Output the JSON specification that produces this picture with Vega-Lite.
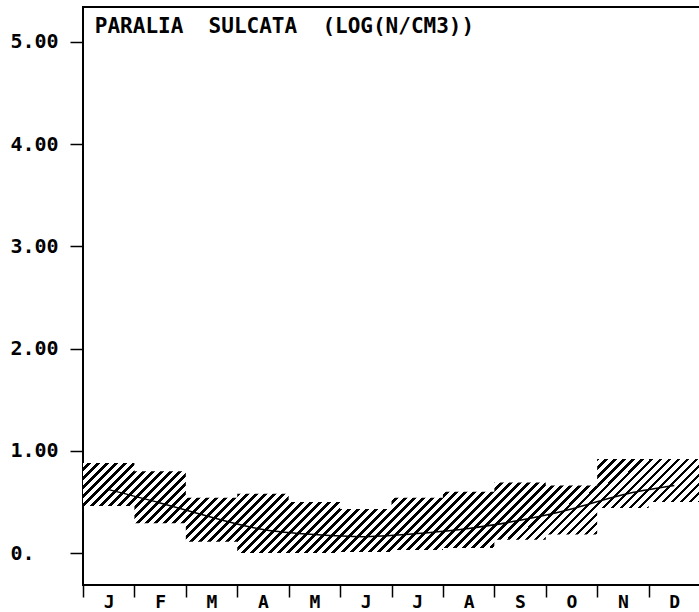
{
  "$schema": "https://vega.github.io/schema/vega-lite/v6.json",
  "width": 617,
  "height": 578,
  "autosize": "none",
  "padding": {"left": 83, "top": 7, "right": 0, "bottom": 27},
  "background": "white",
  "config": {"view": {"stroke": "black", "strokeWidth": 2}, "font": "DejaVu Sans Mono"},
  "datasets": {
    "bands": [
      {"start": 0, "lo": 0.46, "hi": 0.88},
      {"start": 1, "lo": 0.29, "hi": 0.80},
      {"start": 2, "lo": 0.11, "hi": 0.54},
      {"start": 3, "lo": 0.0, "hi": 0.58},
      {"start": 4, "lo": 0.0, "hi": 0.50},
      {"start": 5, "lo": 0.01, "hi": 0.43},
      {"start": 6, "lo": 0.03, "hi": 0.54},
      {"start": 7, "lo": 0.05, "hi": 0.60},
      {"start": 8, "lo": 0.13, "hi": 0.69},
      {"start": 9, "lo": 0.18, "hi": 0.66},
      {"start": 10, "lo": 0.44, "hi": 0.92},
      {"start": 11, "lo": 0.50, "hi": 0.92},
      {"start": 12, "lo": 0.50, "hi": 0.92}
    ],
    "curve": [
      {"mid": 0.5, "value": 0.62},
      {"mid": 1.5, "value": 0.49},
      {"mid": 2.5, "value": 0.35},
      {"mid": 3.5, "value": 0.23},
      {"mid": 4.5, "value": 0.18},
      {"mid": 5.5, "value": 0.16},
      {"mid": 6.5, "value": 0.19},
      {"mid": 7.5, "value": 0.24},
      {"mid": 8.5, "value": 0.32},
      {"mid": 9.5, "value": 0.43},
      {"mid": 10.5, "value": 0.57},
      {"mid": 11.5, "value": 0.66}
    ]
  },
  "layer": [
    {
      "data": {"name": "bands"},
      "mark": {
        "type": "area",
        "interpolate": "step-after",
        "fill": {
          "gradient": "linear", "x1": 0, "y1": 0, "x2": 1.1405, "y2": 0.17381,
          "stops": [
            {"offset":0,"color":"#000"},{"offset":0.0052,"color":"#000"},{"offset":0.0052,"color":"#fff"},{"offset":0.0125,"color":"#fff"},
            {"offset":0.0125,"color":"#000"},{"offset":0.0177,"color":"#000"},{"offset":0.0177,"color":"#fff"},{"offset":0.025,"color":"#fff"},
            {"offset":0.025,"color":"#000"},{"offset":0.0302,"color":"#000"},{"offset":0.0302,"color":"#fff"},{"offset":0.0375,"color":"#fff"},
            {"offset":0.0375,"color":"#000"},{"offset":0.0427,"color":"#000"},{"offset":0.0427,"color":"#fff"},{"offset":0.05,"color":"#fff"},
            {"offset":0.05,"color":"#000"},{"offset":0.0552,"color":"#000"},{"offset":0.0552,"color":"#fff"},{"offset":0.0625,"color":"#fff"},
            {"offset":0.0625,"color":"#000"},{"offset":0.0677,"color":"#000"},{"offset":0.0677,"color":"#fff"},{"offset":0.075,"color":"#fff"},
            {"offset":0.075,"color":"#000"},{"offset":0.0802,"color":"#000"},{"offset":0.0802,"color":"#fff"},{"offset":0.0875,"color":"#fff"},
            {"offset":0.0875,"color":"#000"},{"offset":0.0927,"color":"#000"},{"offset":0.0927,"color":"#fff"},{"offset":0.1,"color":"#fff"},
            {"offset":0.1,"color":"#000"},{"offset":0.1052,"color":"#000"},{"offset":0.1052,"color":"#fff"},{"offset":0.1125,"color":"#fff"},
            {"offset":0.1125,"color":"#000"},{"offset":0.1177,"color":"#000"},{"offset":0.1177,"color":"#fff"},{"offset":0.125,"color":"#fff"},
            {"offset":0.125,"color":"#000"},{"offset":0.1302,"color":"#000"},{"offset":0.1302,"color":"#fff"},{"offset":0.1375,"color":"#fff"},
            {"offset":0.1375,"color":"#000"},{"offset":0.1427,"color":"#000"},{"offset":0.1427,"color":"#fff"},{"offset":0.15,"color":"#fff"},
            {"offset":0.15,"color":"#000"},{"offset":0.1552,"color":"#000"},{"offset":0.1552,"color":"#fff"},{"offset":0.1625,"color":"#fff"},
            {"offset":0.1625,"color":"#000"},{"offset":0.1677,"color":"#000"},{"offset":0.1677,"color":"#fff"},{"offset":0.175,"color":"#fff"},
            {"offset":0.175,"color":"#000"},{"offset":0.1802,"color":"#000"},{"offset":0.1802,"color":"#fff"},{"offset":0.1875,"color":"#fff"},
            {"offset":0.1875,"color":"#000"},{"offset":0.1927,"color":"#000"},{"offset":0.1927,"color":"#fff"},{"offset":0.2,"color":"#fff"},
            {"offset":0.2,"color":"#000"},{"offset":0.2052,"color":"#000"},{"offset":0.2052,"color":"#fff"},{"offset":0.2125,"color":"#fff"},
            {"offset":0.2125,"color":"#000"},{"offset":0.2177,"color":"#000"},{"offset":0.2177,"color":"#fff"},{"offset":0.225,"color":"#fff"},
            {"offset":0.225,"color":"#000"},{"offset":0.2302,"color":"#000"},{"offset":0.2302,"color":"#fff"},{"offset":0.2375,"color":"#fff"},
            {"offset":0.2375,"color":"#000"},{"offset":0.2427,"color":"#000"},{"offset":0.2427,"color":"#fff"},{"offset":0.25,"color":"#fff"},
            {"offset":0.25,"color":"#000"},{"offset":0.2552,"color":"#000"},{"offset":0.2552,"color":"#fff"},{"offset":0.2625,"color":"#fff"},
            {"offset":0.2625,"color":"#000"},{"offset":0.2677,"color":"#000"},{"offset":0.2677,"color":"#fff"},{"offset":0.275,"color":"#fff"},
            {"offset":0.275,"color":"#000"},{"offset":0.2802,"color":"#000"},{"offset":0.2802,"color":"#fff"},{"offset":0.2875,"color":"#fff"},
            {"offset":0.2875,"color":"#000"},{"offset":0.2927,"color":"#000"},{"offset":0.2927,"color":"#fff"},{"offset":0.3,"color":"#fff"},
            {"offset":0.3,"color":"#000"},{"offset":0.3052,"color":"#000"},{"offset":0.3052,"color":"#fff"},{"offset":0.3125,"color":"#fff"},
            {"offset":0.3125,"color":"#000"},{"offset":0.3177,"color":"#000"},{"offset":0.3177,"color":"#fff"},{"offset":0.325,"color":"#fff"},
            {"offset":0.325,"color":"#000"},{"offset":0.3302,"color":"#000"},{"offset":0.3302,"color":"#fff"},{"offset":0.3375,"color":"#fff"},
            {"offset":0.3375,"color":"#000"},{"offset":0.3427,"color":"#000"},{"offset":0.3427,"color":"#fff"},{"offset":0.35,"color":"#fff"},
            {"offset":0.35,"color":"#000"},{"offset":0.3552,"color":"#000"},{"offset":0.3552,"color":"#fff"},{"offset":0.3625,"color":"#fff"},
            {"offset":0.3625,"color":"#000"},{"offset":0.3677,"color":"#000"},{"offset":0.3677,"color":"#fff"},{"offset":0.375,"color":"#fff"},
            {"offset":0.375,"color":"#000"},{"offset":0.3802,"color":"#000"},{"offset":0.3802,"color":"#fff"},{"offset":0.3875,"color":"#fff"},
            {"offset":0.3875,"color":"#000"},{"offset":0.3927,"color":"#000"},{"offset":0.3927,"color":"#fff"},{"offset":0.4,"color":"#fff"},
            {"offset":0.4,"color":"#000"},{"offset":0.4052,"color":"#000"},{"offset":0.4052,"color":"#fff"},{"offset":0.4125,"color":"#fff"},
            {"offset":0.4125,"color":"#000"},{"offset":0.4177,"color":"#000"},{"offset":0.4177,"color":"#fff"},{"offset":0.425,"color":"#fff"},
            {"offset":0.425,"color":"#000"},{"offset":0.4302,"color":"#000"},{"offset":0.4302,"color":"#fff"},{"offset":0.4375,"color":"#fff"},
            {"offset":0.4375,"color":"#000"},{"offset":0.4427,"color":"#000"},{"offset":0.4427,"color":"#fff"},{"offset":0.45,"color":"#fff"},
            {"offset":0.45,"color":"#000"},{"offset":0.4552,"color":"#000"},{"offset":0.4552,"color":"#fff"},{"offset":0.4625,"color":"#fff"},
            {"offset":0.4625,"color":"#000"},{"offset":0.4677,"color":"#000"},{"offset":0.4677,"color":"#fff"},{"offset":0.475,"color":"#fff"},
            {"offset":0.475,"color":"#000"},{"offset":0.4802,"color":"#000"},{"offset":0.4802,"color":"#fff"},{"offset":0.4875,"color":"#fff"},
            {"offset":0.4875,"color":"#000"},{"offset":0.4927,"color":"#000"},{"offset":0.4927,"color":"#fff"},{"offset":0.5,"color":"#fff"},
            {"offset":0.5,"color":"#000"},{"offset":0.5052,"color":"#000"},{"offset":0.5052,"color":"#fff"},{"offset":0.5125,"color":"#fff"},
            {"offset":0.5125,"color":"#000"},{"offset":0.5177,"color":"#000"},{"offset":0.5177,"color":"#fff"},{"offset":0.525,"color":"#fff"},
            {"offset":0.525,"color":"#000"},{"offset":0.5302,"color":"#000"},{"offset":0.5302,"color":"#fff"},{"offset":0.5375,"color":"#fff"},
            {"offset":0.5375,"color":"#000"},{"offset":0.5427,"color":"#000"},{"offset":0.5427,"color":"#fff"},{"offset":0.55,"color":"#fff"},
            {"offset":0.55,"color":"#000"},{"offset":0.5552,"color":"#000"},{"offset":0.5552,"color":"#fff"},{"offset":0.5625,"color":"#fff"},
            {"offset":0.5625,"color":"#000"},{"offset":0.5677,"color":"#000"},{"offset":0.5677,"color":"#fff"},{"offset":0.575,"color":"#fff"},
            {"offset":0.575,"color":"#000"},{"offset":0.5802,"color":"#000"},{"offset":0.5802,"color":"#fff"},{"offset":0.5875,"color":"#fff"},
            {"offset":0.5875,"color":"#000"},{"offset":0.5927,"color":"#000"},{"offset":0.5927,"color":"#fff"},{"offset":0.6,"color":"#fff"},
            {"offset":0.6,"color":"#000"},{"offset":0.6052,"color":"#000"},{"offset":0.6052,"color":"#fff"},{"offset":0.6125,"color":"#fff"},
            {"offset":0.6125,"color":"#000"},{"offset":0.6177,"color":"#000"},{"offset":0.6177,"color":"#fff"},{"offset":0.625,"color":"#fff"},
            {"offset":0.625,"color":"#000"},{"offset":0.6302,"color":"#000"},{"offset":0.6302,"color":"#fff"},{"offset":0.6375,"color":"#fff"},
            {"offset":0.6375,"color":"#000"},{"offset":0.6427,"color":"#000"},{"offset":0.6427,"color":"#fff"},{"offset":0.65,"color":"#fff"},
            {"offset":0.65,"color":"#000"},{"offset":0.6552,"color":"#000"},{"offset":0.6552,"color":"#fff"},{"offset":0.6625,"color":"#fff"},
            {"offset":0.6625,"color":"#000"},{"offset":0.6677,"color":"#000"},{"offset":0.6677,"color":"#fff"},{"offset":0.675,"color":"#fff"},
            {"offset":0.675,"color":"#000"},{"offset":0.6802,"color":"#000"},{"offset":0.6802,"color":"#fff"},{"offset":0.6875,"color":"#fff"},
            {"offset":0.6875,"color":"#000"},{"offset":0.6927,"color":"#000"},{"offset":0.6927,"color":"#fff"},{"offset":0.7,"color":"#fff"},
            {"offset":0.7,"color":"#000"},{"offset":0.7052,"color":"#000"},{"offset":0.7052,"color":"#fff"},{"offset":0.7125,"color":"#fff"},
            {"offset":0.7125,"color":"#000"},{"offset":0.7177,"color":"#000"},{"offset":0.7177,"color":"#fff"},{"offset":0.725,"color":"#fff"},
            {"offset":0.725,"color":"#000"},{"offset":0.7302,"color":"#000"},{"offset":0.7302,"color":"#fff"},{"offset":0.7375,"color":"#fff"},
            {"offset":0.7375,"color":"#000"},{"offset":0.7427,"color":"#000"},{"offset":0.7427,"color":"#fff"},{"offset":0.75,"color":"#fff"},
            {"offset":0.75,"color":"#000"},{"offset":0.7552,"color":"#000"},{"offset":0.7552,"color":"#fff"},{"offset":0.7625,"color":"#fff"},
            {"offset":0.7625,"color":"#000"},{"offset":0.7677,"color":"#000"},{"offset":0.7677,"color":"#fff"},{"offset":0.775,"color":"#fff"},
            {"offset":0.775,"color":"#000"},{"offset":0.7802,"color":"#000"},{"offset":0.7802,"color":"#fff"},{"offset":0.7875,"color":"#fff"},
            {"offset":0.7875,"color":"#000"},{"offset":0.7927,"color":"#000"},{"offset":0.7927,"color":"#fff"},{"offset":0.8,"color":"#fff"},
            {"offset":0.8,"color":"#000"},{"offset":0.8052,"color":"#000"},{"offset":0.8052,"color":"#fff"},{"offset":0.8125,"color":"#fff"},
            {"offset":0.8125,"color":"#000"},{"offset":0.8177,"color":"#000"},{"offset":0.8177,"color":"#fff"},{"offset":0.825,"color":"#fff"},
            {"offset":0.825,"color":"#000"},{"offset":0.8302,"color":"#000"},{"offset":0.8302,"color":"#fff"},{"offset":0.8375,"color":"#fff"},
            {"offset":0.8375,"color":"#000"},{"offset":0.8427,"color":"#000"},{"offset":0.8427,"color":"#fff"},{"offset":0.85,"color":"#fff"},
            {"offset":0.85,"color":"#000"},{"offset":0.8552,"color":"#000"},{"offset":0.8552,"color":"#fff"},{"offset":0.8625,"color":"#fff"},
            {"offset":0.8625,"color":"#000"},{"offset":0.8677,"color":"#000"},{"offset":0.8677,"color":"#fff"},{"offset":0.875,"color":"#fff"},
            {"offset":0.875,"color":"#000"},{"offset":0.8802,"color":"#000"},{"offset":0.8802,"color":"#fff"},{"offset":0.8875,"color":"#fff"},
            {"offset":0.8875,"color":"#000"},{"offset":0.8927,"color":"#000"},{"offset":0.8927,"color":"#fff"},{"offset":0.9,"color":"#fff"},
            {"offset":0.9,"color":"#000"},{"offset":0.9052,"color":"#000"},{"offset":0.9052,"color":"#fff"},{"offset":0.9125,"color":"#fff"},
            {"offset":0.9125,"color":"#000"},{"offset":0.9177,"color":"#000"},{"offset":0.9177,"color":"#fff"},{"offset":0.925,"color":"#fff"},
            {"offset":0.925,"color":"#000"},{"offset":0.9302,"color":"#000"},{"offset":0.9302,"color":"#fff"},{"offset":0.9375,"color":"#fff"},
            {"offset":0.9375,"color":"#000"},{"offset":0.9427,"color":"#000"},{"offset":0.9427,"color":"#fff"},{"offset":0.95,"color":"#fff"},
            {"offset":0.95,"color":"#000"},{"offset":0.9552,"color":"#000"},{"offset":0.9552,"color":"#fff"},{"offset":0.9625,"color":"#fff"},
            {"offset":0.9625,"color":"#000"},{"offset":0.9677,"color":"#000"},{"offset":0.9677,"color":"#fff"},{"offset":0.975,"color":"#fff"},
            {"offset":0.975,"color":"#000"},{"offset":0.9802,"color":"#000"},{"offset":0.9802,"color":"#fff"},{"offset":0.9875,"color":"#fff"},
            {"offset":0.9875,"color":"#000"},{"offset":0.9927,"color":"#000"},{"offset":0.9927,"color":"#fff"},{"offset":1,"color":"#fff"}
          ]
        }
      },
      "encoding": {
        "x": {
          "field": "start", "type": "quantitative",
          "scale": {"domain": [0, 12], "nice": false, "zero": false},
          "axis": {"orient": "bottom", "values": [0, 1, 2, 3, 4, 5, 6, 7, 8, 9, 10, 11, 12], "labels": false, "tickSize": 12, "tickWidth": 1.5, "tickColor": "black", "domain": false, "grid": false, "title": null}
        },
        "y": {
          "field": "hi", "type": "quantitative",
          "scale": {"domain": [-0.313, 5.342], "nice": false, "zero": false},
          "axis": {"orient": "left", "values": [0, 1, 2, 3, 4, 5], "labelExpr": "datum.value == 0 ? '0.' : format(datum.value, '.2f')", "tickSize": 13, "tickWidth": 1.5, "tickColor": "black", "domain": false, "grid": false, "labelFont": "DejaVu Sans Mono", "labelFontSize": 20, "labelFontWeight": "bold", "labelAlign": "left", "labelPadding": 60, "labelColor": "black", "labelFlush": false, "labelOverlap": false, "title": null}
        },
        "y2": {"field": "lo"}
      }
    },
    {
      "data": {"name": "curve"},
      "mark": {"type": "line", "interpolate": "natural", "color": "black", "strokeWidth": 1.5},
      "encoding": {
        "x": {
          "field": "mid", "type": "quantitative",
          "axis": {"orient": "bottom", "values": [0.5, 1.5, 2.5, 3.5, 4.5, 5.5, 6.5, 7.5, 8.5, 9.5, 10.5, 11.5], "ticks": false, "tickSize": 0, "domain": false, "grid": false, "labelExpr": "['J','F','M','A','M','J','J','A','S','O','N','D'][floor(datum.value)]", "labelFont": "DejaVu Sans Mono", "labelFontSize": 18, "labelFontWeight": "bold", "labelPadding": 22, "labelBaseline": "alphabetic", "labelColor": "black", "labelFlush": false, "labelOverlap": false, "title": null}
        },
        "y": {"field": "value", "type": "quantitative"}
      }
    },
    {
      "data": {"values": [{"label": "PARALIA\u00a0\u00a0SULCATA\u00a0\u00a0(LOG(N/CM3))", "t": 0.23, "v": 5.088}]},
      "mark": {"type": "text", "align": "left", "baseline": "alphabetic", "font": "DejaVu Sans Mono", "fontSize": 21, "fontWeight": "bold", "color": "black"},
      "encoding": {
        "x": {"field": "t", "type": "quantitative", "axis": null},
        "y": {"field": "v", "type": "quantitative"},
        "text": {"field": "label"}
      }
    }
  ],
  "resolve": {"axis": {"x": "independent"}}
}
